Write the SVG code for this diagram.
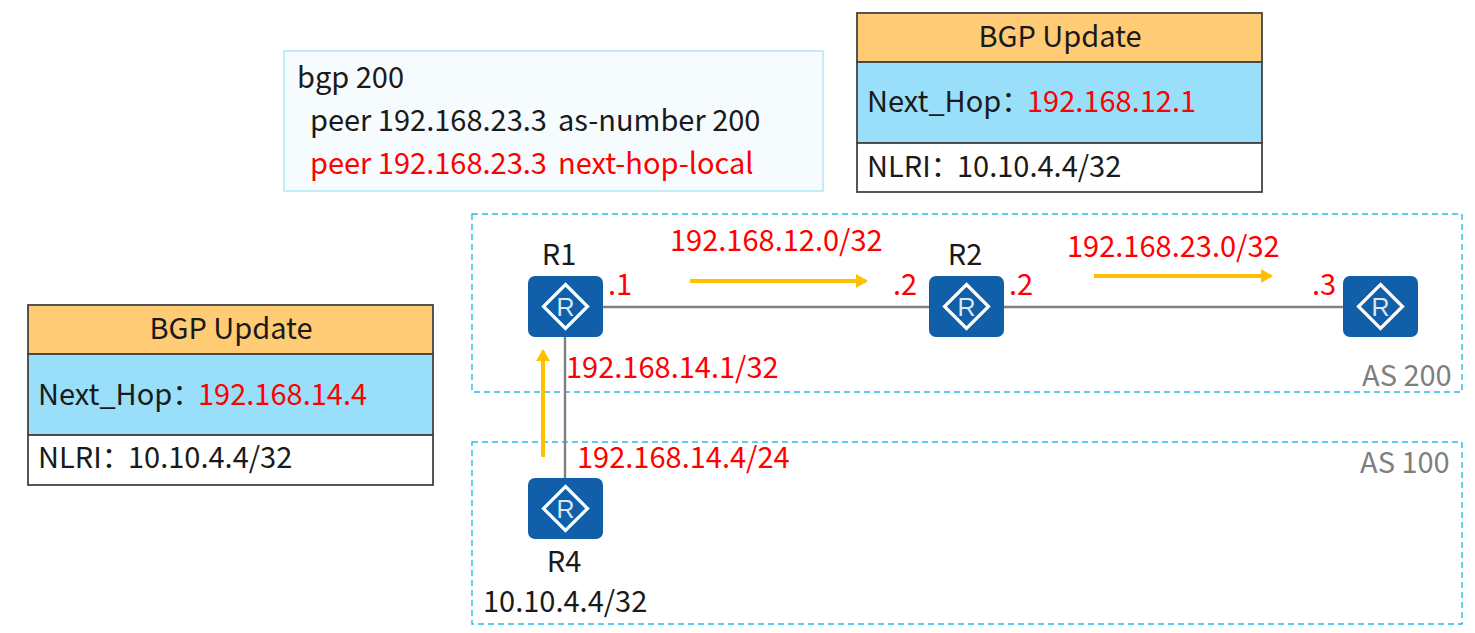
<svg xmlns="http://www.w3.org/2000/svg" width="1475" height="633" viewBox="0 0 1475 633">
<style>
text{font-family:"Noto Sans CJK SC","Noto Sans",sans-serif;font-size:29px;fill:#1a1a1a}
.r{fill:#ff0000}
.g{fill:#7f7f7f;font-size:29px}
.m{text-anchor:middle}
.zone{fill:none;stroke:#29b9ea;stroke-width:1.400;stroke-dasharray:6 4}
.link{stroke:#808080;stroke-width:2.400;fill:none}
.flow{stroke:#ffc000;stroke-width:4;fill:none;marker-end:url(#ah)}
.cell{stroke:#444;stroke-width:1.800}
.body{fill:#105fa8}
.dia{fill:none;stroke:#fff;stroke-width:3.200}
.rl{font-family:"Liberation Sans",sans-serif;font-size:25px;fill:#d8e8f5;text-anchor:middle}
</style>
<defs>
<marker id="ah" markerUnits="userSpaceOnUse" markerWidth="14" markerHeight="16" refX="10" refY="7" orient="auto"><path d="M0 0L12 7L0 14Z" fill="#ffc000"/></marker>
<g id="router"><rect class="body" x="-37.500" y="-30.500" width="75" height="61" rx="7"/><path class="dia" d="M0 -22L22 0L0 22L-22 0Z"/><text class="rl" x="0" y="9">R</text></g>
</defs>
<rect width="1475" height="633" fill="#fff"/>
<g id="zones">
<rect id="as200" class="zone" x="472" y="214" width="990" height="178"/>
<rect id="as100" class="zone" x="472" y="442" width="990" height="182"/>
<text class="g" x="1362" y="386">AS 200</text>
<text class="g" x="1360" y="473">AS 100</text>
</g>
<g id="connectors">
<path class="link" d="M602 307H930"/>
<path class="link" d="M1003 307H1344"/>
<path class="link" d="M565 337V479"/>
<path class="flow" d="M690 281H866"/>
<path class="flow" d="M1094 276H1271"/>
<path class="flow" d="M543 457V351"/>
</g>
<g id="config">
<rect x="284" y="51" width="539" height="140" fill="#f6fcfe" stroke="#a6e3f5" stroke-width="1.300"/>
<text x="297" y="88">bgp 200</text>
<text x="310" y="131">peer 192.168.23.3<tspan x="558">as-number 200</tspan></text>
<text class="r" x="310" y="174">peer 192.168.23.3<tspan x="558">next-hop-local</tspan></text>
</g>
<g id="update-top">
<rect class="cell" x="857" y="13" width="405" height="49" fill="#ffcc75"/>
<rect class="cell" x="857" y="62" width="405" height="81" fill="#99dffa"/>
<rect class="cell" x="857" y="143" width="405" height="49" fill="#fff"/>
<text class="m" x="1060" y="47">BGP Update</text>
<text x="867" y="112">Next_Hop：<tspan class="r" x="1027">192.168.12.1</tspan></text>
<text x="867" y="177">NLRI：<tspan x="957">10.10.4.4/32</tspan></text>
</g>
<g id="update-left">
<rect class="cell" x="28" y="305" width="405" height="49" fill="#ffcc75"/>
<rect class="cell" x="28" y="354" width="405" height="81" fill="#99dffa"/>
<rect class="cell" x="28" y="435" width="405" height="50" fill="#fff"/>
<text class="m" x="231" y="339">BGP Update</text>
<text x="38" y="405">Next_Hop：<tspan class="r" x="198">192.168.14.4</tspan></text>
<text x="38" y="468">NLRI：<tspan x="128">10.10.4.4/32</tspan></text>
</g>
<g id="R1"><use href="#router" x="565.500" y="306.500"/><text class="m" x="559" y="265">R1</text></g>
<g id="R2"><use href="#router" x="966.500" y="306.500"/><text class="m" x="965" y="265">R2</text></g>
<g id="R3"><use href="#router" x="1380.500" y="306.500"/></g>
<g id="R4"><use href="#router" x="565.500" y="508.500"/><text class="m" x="564" y="572">R4</text><text x="483" y="612">10.10.4.4/32</text></g>
<g id="labels">
<text class="r" x="670" y="251">192.168.12.0/32</text>
<text class="r" x="1067" y="257">192.168.23.0/32</text>
<text class="r" x="608" y="295">.1</text>
<text class="r" x="893" y="295">.2</text>
<text class="r" x="1009" y="295">.2</text>
<text class="r" x="1312" y="295">.3</text>
<text class="r" x="566" y="378">192.168.14.1/32</text>
<text class="r" x="577" y="468">192.168.14.4/24</text>
</g>
</svg>
